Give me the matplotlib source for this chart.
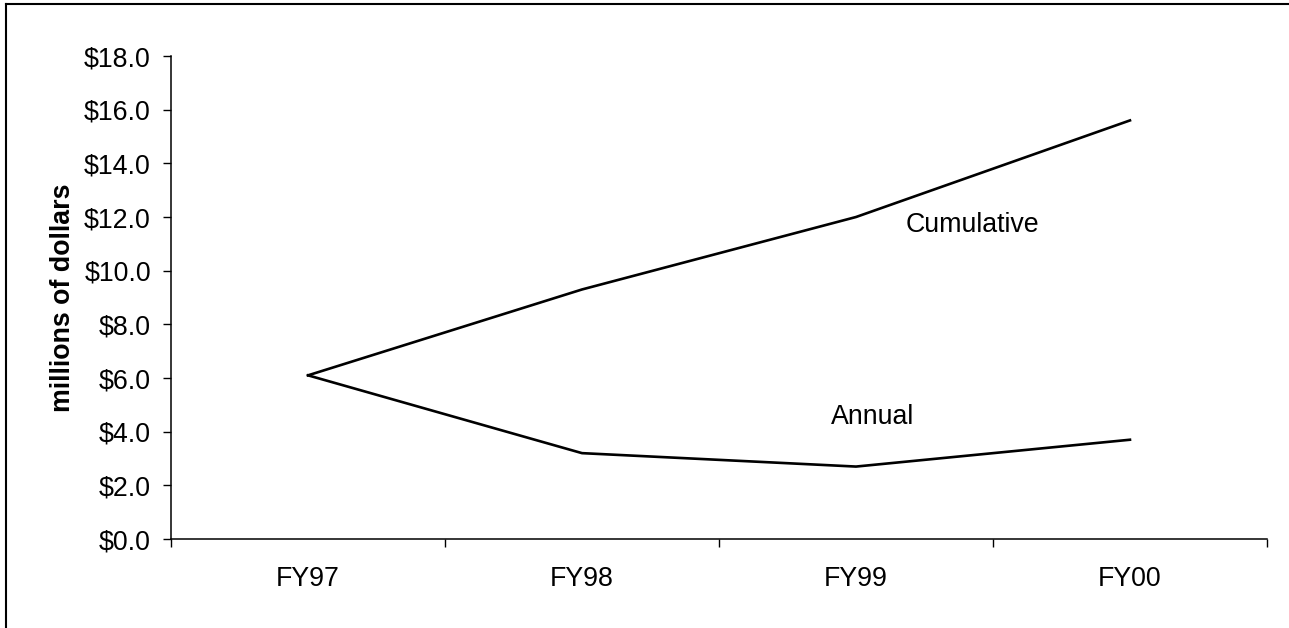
import matplotlib.pyplot as plt
from matplotlib.lines import Line2D
import numpy as np

plt.rcParams['font.family'] = ['Liberation Sans', 'DejaVu Sans']

# Data
years = ["FY97", "FY98", "FY99", "FY00"]
cumulative = [6.1, 9.3, 12.0, 15.6]
annual = [6.1, 3.2, 2.7, 3.7]
y_ticks = [0, 2, 4, 6, 8, 10, 12, 14, 16, 18]

fs = 19.3

fig = plt.figure(figsize=(12.89, 6.28), dpi=100)
fig.patch.set_facecolor('white')
ax = fig.add_axes([0.1327, 0.1417, 0.9829 - 0.1327, 0.9108 - 0.1417])

x = np.arange(len(years))
ax.plot(x, cumulative, color='black', linewidth=1.9)
ax.plot(x, annual, color='black', linewidth=1.9)

# Series labels
ax.text(2.18, cumulative[2] - 0.3, "Cumulative", fontsize=fs, ha='left', va='center')
ax.text(1.91, 4.55, "Annual", fontsize=fs, ha='left', va='center')

ax.set_xlim(-0.5, len(years) - 0.5)
ax.set_ylim(0, 18)

# Category boundaries as major ticks, labels on minor ticks
ax.set_xticks(np.arange(-0.5, len(years), 1.0))
ax.set_xticklabels([])
ax.set_xticks(x, minor=True)
ax.set_xticklabels(years, minor=True, fontsize=fs)
ax.tick_params(axis='x', which='major', direction='out', length=5.5, width=1, color='black')
ax.tick_params(axis='x', which='minor', length=0, pad=19.5)

ax.set_yticks(y_ticks)
ax.set_yticklabels([f"${v:.1f}" for v in y_ticks], fontsize=fs)
ax.tick_params(axis='y', direction='out', length=5.5, width=1, pad=9, color='black')

ax.set_ylabel("millions of dollars", fontsize=fs, fontweight='bold', labelpad=6)

ax.spines['top'].set_visible(False)
ax.spines['right'].set_visible(False)
for s in ['left', 'bottom']:
    ax.spines[s].set_linewidth(1.1)
ax.grid(False)

# Outer border (left and top edges only visible)
fig.add_artist(Line2D([6 / 1289, 6 / 1289], [0, 1 - 4 / 628], transform=fig.transFigure,
                      color='black', linewidth=1.5))
fig.add_artist(Line2D([6 / 1289, 1], [1 - 4 / 628, 1 - 4 / 628], transform=fig.transFigure,
                      color='black', linewidth=1.5))

plt.savefig("out.png", dpi=100, facecolor='white')
plt.close()
